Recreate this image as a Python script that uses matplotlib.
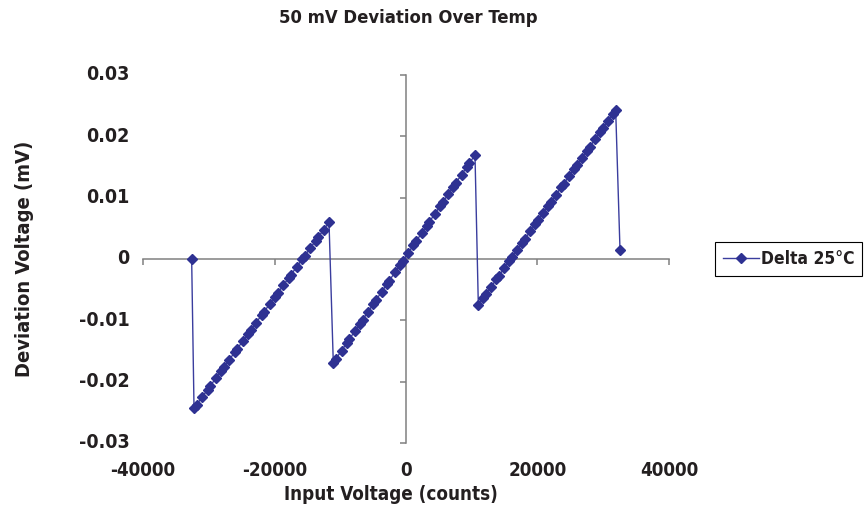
import matplotlib
matplotlib.use('Agg')
import matplotlib.pyplot as plt
from matplotlib import font_manager as fm
from matplotlib.font_manager import FontProperties

# Input voltage (counts)
x_counts = [
    -32600,
    -32240, -31840, -30990, -30187, -29787, -28937, -28134, -27734, -26884,
    -26081, -25681, -24831, -24028, -23628, -22778, -21975, -21575, -20725,
    -19922, -19522, -18672, -17869, -17469, -16619, -15816, -15416, -14566,
    -13763, -13363, -12513, -11710,
    -11057, -10657, -9807, -9027, -8627, -7777, -6997, -6597, -5747,
    -4967, -4567, -3717, -2937, -2537, -1687, -907, -507, 343,
    1123, 1523, 2373, 3153, 3553, 4403, 5183, 5583, 6433,
    7213, 7613, 8463, 9243, 9643, 10493,
    11000, 11780, 12180, 12971, 13751, 14151, 14942, 15722, 16122,
    16913, 17693, 18093, 18884, 19664, 20064, 20855, 21635, 22035,
    22826, 23606, 24006, 24797, 25577, 25977, 26768, 27548, 27948,
    28739, 29519, 29919, 30710, 31490, 31890,
    32548,
]

# Deviation voltage (mV), Delta 25 C
delta_25c = [
    0.0,
    -0.02434, -0.02375, -0.02249, -0.02131, -0.02072, -0.01946, -0.01828, -0.01769, -0.01643,
    -0.01524, -0.01465, -0.01339, -0.01221, -0.01162, -0.01036, -0.00918, -0.00859, -0.00733,
    -0.00615, -0.00556, -0.00430, -0.00312, -0.00253, -0.00127, -0.00008, 0.00051, 0.00177,
    0.00295, 0.00354, 0.00480, 0.00598,
    -0.01691, -0.01628, -0.01495, -0.01372, -0.01309, -0.01175, -0.01053, -0.00990, -0.00856,
    -0.00734, -0.00671, -0.00537, -0.00415, -0.00352, -0.00218, -0.00095, -0.00032, 0.00101,
    0.00224, 0.00287, 0.00420, 0.00543, 0.00606, 0.00739, 0.00862, 0.00925, 0.01058,
    0.01181, 0.01244, 0.01377, 0.01500, 0.01563, 0.01696,
    -0.00750, -0.00631, -0.00570, -0.00450, -0.00331, -0.00270, -0.00150, -0.00031, 0.00030,
    0.00150, 0.00269, 0.00330, 0.00450, 0.00569, 0.00630, 0.00750, 0.00869, 0.00930,
    0.01050, 0.01169, 0.01230, 0.01350, 0.01469, 0.01530, 0.01650, 0.01769, 0.01830,
    0.01950, 0.02069, 0.02130, 0.02250, 0.02369, 0.02430,
    0.00147,
]

x_ticks = [-40000, -20000, 0, 20000, 40000]
x_tick_labels = ['-40000', '-20000', '0', '20000', '40000']
y_ticks = [-0.03, -0.02, -0.01, 0.0, 0.01, 0.02, 0.03]
y_tick_labels = ['-0.03', '-0.02', '-0.01', '0', '0.01', '0.02', '0.03']

# --- pick a bold condensed font if one is installed ---
def _is_condensed(f):
    n = f.name.lower()
    st = str(f.stretch).lower()
    return ('narrow' in n or 'condensed' in n or 'condensed' in st
            or (st.isdigit() and int(st) < 500))

def _is_bold(f):
    w = f.weight
    if isinstance(w, str):
        return 'bold' in w.lower() or 'black' in w.lower() or 'heavy' in w.lower()
    return w >= 600

cond = [f for f in fm.fontManager.ttflist if _is_condensed(f)]
bold_cond = [f for f in cond if _is_bold(f)]
pref = sorted(bold_cond or cond,
              key=lambda f: (0 if 'liberation' in f.name.lower() else
                             1 if 'dejavu' in f.name.lower() else 2,
                             str(f.style) != 'normal'))
if pref:
    font_path = pref[0].fname
    scale = 1.0
    def fp(size):
        return FontProperties(fname=font_path, size=size * scale)
else:
    scale = 0.85
    def fp(size):
        return FontProperties(family='DejaVu Sans', weight='bold', size=size * scale)

W, H = 866, 514
fig = plt.figure(figsize=(W / 100, H / 100), dpi=100)
ax = fig.add_axes([143 / W, 1 - 443 / H, (669 - 143) / W, (443 - 75) / H])

ax.plot(x_counts, delta_25c, color='#3a3d9e', lw=1.0, marker='D', ms=5.2,
        mfc='#2e3192', mec='#2e3192', label='Delta 25°C', zorder=3)

ax.set_xlim(-40000, 40000)
ax.set_ylim(-0.03, 0.03)
for s in ['top', 'right']:
    ax.spines[s].set_visible(False)
for s in ['left', 'bottom']:
    ax.spines[s].set_position(('data', 0))
    ax.spines[s].set_color('#808080')
    ax.spines[s].set_linewidth(1.1)
ax.set_xticks(x_ticks)
ax.set_yticks(y_ticks)
ax.tick_params(labelleft=False, labelbottom=False, direction='out',
               length=4.5, width=1.1, color='#808080')

txt_color = '#231f20'
for v, l in zip(y_ticks, y_tick_labels):
    ax.text(-0.025, v, l, transform=ax.get_yaxis_transform(), ha='right',
            va='center', fontproperties=fp(14), color=txt_color)
for v, l in zip(x_ticks, x_tick_labels):
    ax.text(v, -0.05, l, transform=ax.get_xaxis_transform(), ha='center',
            va='top', fontproperties=fp(13.5), color=txt_color)

fig.text(408 / W, 1 - 18 / H, '50 mV Deviation Over Temp', ha='center', va='center',
         fontproperties=fp(13.2), color=txt_color)
fig.text(391 / W, 1 - 495 / H, 'Input Voltage (counts)', ha='center', va='center',
         fontproperties=fp(13.5), color=txt_color)
fig.text(25 / W, 1 - 259 / H, 'Deviation Voltage (mV)', ha='center', va='center',
         rotation=90, fontproperties=fp(14.5), color=txt_color)

leg = ax.legend(loc='center left', bbox_to_anchor=(715 / W, 1 - 259 / H),
                bbox_transform=fig.transFigure, frameon=True, fancybox=False,
                edgecolor='black', framealpha=1, borderpad=0.45,
                handlelength=2.1, handletextpad=0.1, borderaxespad=0,
                prop=fp(12.5))
leg.get_frame().set_linewidth(0.8)
for t in leg.get_texts():
    t.set_color(txt_color)

fig.savefig('out.png', dpi=100)
